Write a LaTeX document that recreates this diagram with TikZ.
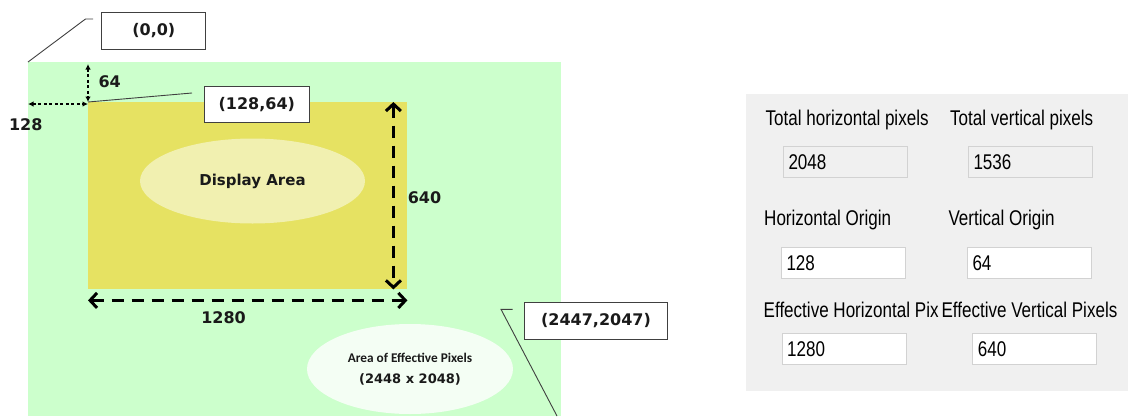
\documentclass[tikz,border=0pt]{standalone}
\usepackage{fontspec}
\usepackage{tikz}
\usetikzlibrary{arrows.meta,shapes.geometric}
\newfontfamily\djfont{DejaVu Sans}
\newfontfamily\calfont{Carlito}
\newfontfamily\uifont[FakeStretch=0.8]{Liberation Sans}
\newcommand{\lbfont}{\djfont\bfseries\fontsize{16}{19}\selectfont}
\newcommand{\uisize}{\uifont\fontsize{21.3}{24}\selectfont}
\definecolor{areagreen}{HTML}{CCFFCC}
\definecolor{dispyellow}{HTML}{E6E262}
\definecolor{dispell}{HTML}{F1F0B0}
\definecolor{effell}{HTML}{F4FEF4}
\definecolor{panelgray}{HTML}{F0F0F0}
\definecolor{fieldline}{HTML}{D2D2D2}
\definecolor{inkgray}{HTML}{1A1A1A}

\begin{document}
\begin{tikzpicture}[x=1pt,y=-1pt,
  area/.style={anchor=north west, inner sep=0pt},
  lbl/.style={font=\lbfont, text=inkgray},
  cbox/.style={draw=black!75, line width=1.2pt, fill=white, font=\lbfont, text=inkgray},
  leader/.style={draw=black!75, line width=0.9pt},
  thinarrow/.style={line width=1.1pt, dash pattern=on 3pt off 2.5pt, >={Latex[length=5.5pt,width=5.5pt]}, <->},
  bigarrow/.style={line width=3pt, dash pattern=on 12pt off 8pt, >={Straight Barb[length=7pt,width=15pt]}, <->},
  uilabel/.style={anchor=base west, inner sep=0pt, font=\uisize},
  uifield/.style={anchor=north west, draw=fieldline, line width=1pt, minimum width=124pt, minimum height=31pt, text width=114pt, inner xsep=5pt, align=left, font=\uisize}]
\useasboundingbox (0,0) rectangle (1128,416);

\node[area, fill=areagreen, minimum width=533pt, minimum height=354pt] (sensor) at (28,62) {};
\node[area, fill=dispyellow, minimum width=319pt, minimum height=187pt] (disp) at (88,102) {};
\node[ellipse, fill=dispell, minimum width=225pt, minimum height=85pt, font=\djfont\bfseries\fontsize{15}{18}\selectfont, text=inkgray] (dispname) at (252.5,181) {Display Area};
\node[ellipse, fill=effell, minimum width=206pt, minimum height=90pt, align=center, text=inkgray, font=\fontsize{14}{20.5}\selectfont] (eff) at (410,369) {{\calfont\bfseries\fontsize{13.3}{16}\selectfont Area of Effective Pixels}\\{\djfont\bfseries\fontsize{13}{16}\selectfont (2448 x 2048)}};

\draw[thinarrow] ([yshift=-2pt]disp.north west |- sensor.north) -- (disp.north west);
\draw[thinarrow] ([yshift=-2pt]sensor.west |- disp.north west) -- ([yshift=-2pt]disp.north west);
\draw[bigarrow] ([xshift=-14pt]disp.north east) -- ([xshift=-14pt]disp.south east);
\draw[bigarrow] ([yshift=-11pt]disp.south west) -- ([yshift=-11pt]disp.south east);
\node[lbl] (l64) at (109.7,81.7) {64};
\node[lbl] (l128) at (25.8,125) {128};
\node[lbl] (l640) at (424.5,198) {640};
\node[lbl] (l1280) at (223.6,317.3) {1280};

\node[cbox, minimum width=104pt, minimum height=37pt] (b00) at (153.8,30.7) {(0,0)};
\node[cbox, minimum width=105pt, minimum height=36pt] (b12864) at (256.8,104.7) {(128,64)};
\node[cbox, minimum width=143pt, minimum height=37pt] (b2447) at (596,320.8) {(2447,2047)};
\coordinate (k00a) at (85.5,19);
\coordinate (k00b) at (93,19);
\coordinate (k128) at (192,93);
\coordinate (k24a) at (557,416);
\coordinate (k24b) at (501,309.3);
\coordinate (k24c) at (512.7,309.3);
\draw[leader] (sensor.north west) -- (k00a) -- (k00b);
\draw[leader] (disp.north west) -- (k128);
\draw[leader] (k24a) -- (k24b) -- (k24c);

\node[area, fill=panelgray, minimum width=384pt, minimum height=297pt] (panel) at (746,94) {};
\node[uilabel] (lth) at (765.5,125.5) {Total horizontal pixels};
\node[uilabel] (ltv) at (950,125.5) {Total vertical pixels};
\node[uilabel] (loh) at (764,225.5) {Horizontal Origin};
\node[uilabel] (lov) at (948.3,225.5) {Vertical Origin};
\node[uilabel] (leh) at (763.5,317.5) {Effective Horizontal Pix};
\node[uilabel] (lev) at (941.3,317.5) {Effective Vertical Pixels};
\node[uifield, fill=panelgray] (f2048) at (783,146) {2048};
\node[uifield, fill=panelgray] (f1536) at (968,146) {1536};
\node[uifield, fill=white] (f128) at (781,247) {128};
\node[uifield, fill=white] (f64) at (967,247) {64};
\node[uifield, fill=white] (f1280) at (781.7,333) {1280};
\node[uifield, fill=white] (f640) at (972.3,333) {640};
\end{tikzpicture}
\end{document}
